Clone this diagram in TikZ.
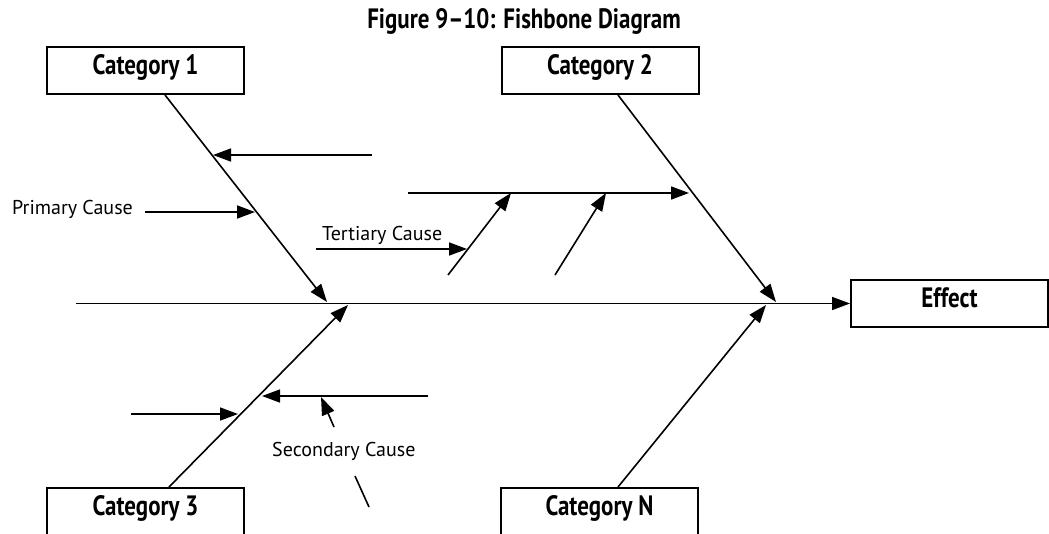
\documentclass[tikz,border=0pt]{standalone}
\usepackage{fontspec}
\usepackage{tikz}
\usetikzlibrary{arrows.meta,positioning}
\setmainfont{PT Sans}
\newfontfamily\condfont{PT Sans}[FakeStretch=0.82,Ligatures=TeX]

\begin{document}
\begin{tikzpicture}[x=1pt,y=-1pt,
    catbox/.style={draw,line width=2pt,minimum width=197pt,minimum height=47pt,
                   inner sep=0pt,text height=18pt,text depth=10pt,
                   font=\condfont\bfseries\fontsize{28}{30}\selectfont},
    bone/.style={line width=1.6pt,-{Triangle[length=18pt,width=13pt]}},
    plain/.style={line width=1.6pt},
    lbl/.style={font=\fontsize{20}{22}\selectfont,inner sep=0pt}]
      \useasboundingbox (0,0) rectangle (1049,533);
      \clip (0,0) rectangle (1049,533);
      % title
      \node[anchor=base,inner sep=0pt,font=\condfont\bfseries\fontsize{28}{30}\selectfont]
        (title) at (524,28) {Figure 9--10: Fishbone Diagram};
      % category boxes and effect
      \node[catbox] (cat1) at (145.5,70.5) {Category 1};
      \node[catbox] (cat2) at (600,70.5) {Category 2};
      \node[catbox] (cat3) at (145.5,511.5) {Category 3};
      \node[catbox] (catN) at (599.5,511.5) {Category N};
      \node[catbox] (effect) at (949.5,303.5) {Effect};
      % spine and main bones
      \coordinate (tail) at (76,303.5);
      \coordinate (h1) at (327,302);
      \coordinate (h2) at (776,302);
      \coordinate (h3) at (348,305);
      \coordinate (hN) at (766,305);
      \draw[bone] (tail) -- (effect.west);
      \draw[bone] ([xshift=19.5pt]cat1.south) -- (h1);
      \draw[bone] ([xshift=18pt]cat2.south) -- (h2);
      \draw[bone] ([xshift=23.5pt]cat3.north) -- (h3);
      \draw[bone] ([xshift=18.5pt]catN.north) -- (hN);
      % causes on category 1
      \node[lbl,anchor=base west] (primary) at (12,214) {Primary Cause};
      \node[lbl,anchor=base west] (tertiary) at (322,240) {Tertiary Cause};
      \coordinate (c1a) at (372,155);   \coordinate (c1b) at (213,155);
      \coordinate (c2a) at (145,212);   \coordinate (c2b) at (255,212);
      \draw[bone] (c1a) -- (c1b);
      \draw[bone] (c2a) -- (c2b);
      % causes on category 2
      \coordinate (s1) at (408,193);    \coordinate (s2) at (689,193);
      \coordinate (t1) at (448,275);    \coordinate (t2) at (511,193);
      \coordinate (t3) at (555,275);    \coordinate (t4) at (606,193);
      \coordinate (t5) at (316,249);    \coordinate (t6) at (467,249);
      \draw[bone] (s1) -- (s2);
      \draw[bone] (t1) -- (t2);
      \draw[bone] (t3) -- (t4);
      \draw[bone] (t5) -- (t6);
      % causes on category 3
      \node[lbl,anchor=base west] (secondary) at (272,456) {Secondary Cause};
      \coordinate (u1) at (131,414);    \coordinate (u2) at (238,414);
      \coordinate (u3) at (428,396);    \coordinate (u4) at (262,396);
      \coordinate (u5) at (334,427);    \coordinate (u6) at (321,397);
      \coordinate (u7) at (355,476);    \coordinate (u8) at (369,507);
      \draw[bone] (u1) -- (u2);
      \draw[bone] (u3) -- (u4);
      \draw[bone] (u5) -- (u6);
      \draw[plain] (u7) -- (u8);
    \end{tikzpicture}
\end{document}
